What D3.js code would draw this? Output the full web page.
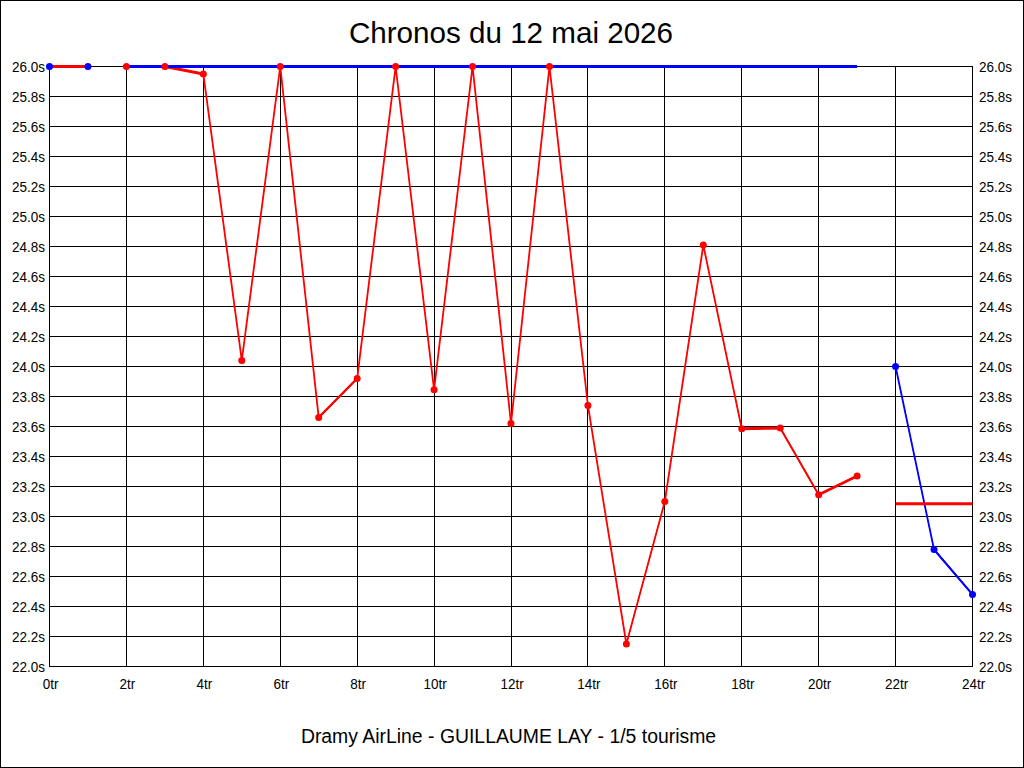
<!DOCTYPE html>
<html>
<head>
<meta charset="utf-8">
<script src="https://cdn.jsdelivr.net/npm/d3@7"></script>
<style>
  body { margin: 0; background: #fff; }
  svg { display: block; }
  .tick-label { font-family: "Liberation Sans", Arial, sans-serif; font-size: 15.5px; fill: #000; }
</style>
</head>
<body>
<svg id="svg" width="1024" height="768"></svg>
<script>
const svg = d3.select("#svg");

// laps (tours) and lap times in seconds, null = no lap for that series
const laps = [0, 1, 2, 3, 4, 5, 6, 7, 8, 9, 10, 11, 12, 13, 14, 15, 16, 17, 18, 19, 20, 21, 22, 23, 24];
const redTimes = [null, null, 26.0, 26.0, 25.95, 24.04, 26.0, 23.66, 23.92, 26.0, 23.845, 26.0, 23.62, 26.0,
  23.74, 22.15, 23.10, 24.81, 23.585, 23.59, 23.145, 23.27, null, null, null];
const blueTimes = [26.0, 26.0, null, null, null, null, null, null, null, null, null, null, null, null,
  null, null, null, null, null, null, null, null, 24.0, 22.78, 22.48];

// average lines
const avgSeries = ["red", "blue", "red"];
const avgFrom = [0, 2, 22];
const avgTo = [1, 21, 24];
const avgTimes = [26.0, 26.0, 23.085];

const xTicks = [0, 2, 4, 6, 8, 10, 12, 14, 16, 18, 20, 22, 24];
const yTicks = [22.0, 22.2, 22.4, 22.6, 22.8, 23.0, 23.2, 23.4, 23.6, 23.8, 24.0, 24.2, 24.4, 24.6, 24.8,
  25.0, 25.2, 25.4, 25.6, 25.8, 26.0];

const colors = { red: "#ff0000", blue: "#0000ff" };

const x = d3.scaleLinear().domain([0, 24]).range([49.5, 972.5]);
const y = d3.scaleLinear().domain([22, 26]).range([666.5, 66.5]);

// frame
svg.append("rect")
  .attr("x", 0.5).attr("y", 0.5)
  .attr("width", 1023).attr("height", 767)
  .attr("fill", "#fff").attr("stroke", "#000");

// title + footer
svg.append("text")
  .attr("x", 511).attr("y", 43)
  .attr("text-anchor", "middle")
  .style("font-family", "'Liberation Sans', Arial, sans-serif")
  .style("font-size", "29.6px")
  .text("Chronos du 12 mai 2026");

svg.append("text")
  .attr("x", 508.5).attr("y", 743)
  .attr("text-anchor", "middle")
  .style("font-family", "'Liberation Sans', Arial, sans-serif")
  .style("font-size", "19.4px")
  .text("Dramy AirLine - GUILLAUME LAY - 1/5 tourisme");

const g = svg.append("g");

// grid
g.selectAll("line.hgrid")
  .data(yTicks)
  .enter()
  .append("line")
  .attr("class", "hgrid")
  .attr("x1", x(0)).attr("x2", x(24))
  .attr("y1", (d) => Math.round(y(d) - 0.5) + 0.5)
  .attr("y2", (d) => Math.round(y(d) - 0.5) + 0.5)
  .attr("stroke", "#000")
  .attr("shape-rendering", "crispEdges");

g.selectAll("line.vgrid")
  .data(xTicks)
  .enter()
  .append("line")
  .attr("class", "vgrid")
  .attr("x1", (d) => Math.round(x(d) - 0.5) + 0.5)
  .attr("x2", (d) => Math.round(x(d) - 0.5) + 0.5)
  .attr("y1", y(26)).attr("y2", y(22))
  .attr("stroke", "#000")
  .attr("shape-rendering", "crispEdges");

// axis labels (narrow bitmap-like font: squeeze horizontally)
const squeeze = 0.87;

g.selectAll("text.ylab")
  .data(yTicks)
  .enter()
  .append("text")
  .attr("class", "tick-label")
  .attr("transform", (d) => `translate(45,${y(d) + 5.5}) scale(${squeeze},1)`)
  .attr("text-anchor", "end")
  .text((d) => d.toFixed(1) + "s");

g.selectAll("text.ylab2")
  .data(yTicks)
  .enter()
  .append("text")
  .attr("class", "tick-label")
  .attr("transform", (d) => `translate(979,${y(d) + 5.5}) scale(${squeeze},1)`)
  .text((d) => d.toFixed(1) + "s");

g.selectAll("text.xlab")
  .data(xTicks)
  .enter()
  .append("text")
  .attr("class", "tick-label")
  .attr("transform", (d) => `translate(${x(d) + 1},689) scale(${squeeze},1)`)
  .attr("text-anchor", "middle")
  .text((d) => d + "tr");

// series: the old renderer thickens lines vertically, so draw a vertical band + thin line
const series = [
  { color: colors.blue, values: blueTimes },
  { color: colors.red, values: redTimes },
];

const band = d3.area()
  .defined((d) => d.v != null)
  .x((d) => x(d.lap))
  .y0((d) => y(d.v) - 1.5)
  .y1((d) => y(d.v) + 1.5);

const thin = d3.line()
  .defined((d) => d.v != null)
  .x((d) => x(d.lap))
  .y((d) => y(d.v));

series.forEach((s) => {
  const pts = laps.map((lap, i) => ({ lap: lap, v: s.values[i] }));
  g.append("path")
    .attr("d", band(pts))
    .attr("fill", s.color);
  g.append("path")
    .attr("d", thin(pts))
    .attr("fill", "none")
    .attr("stroke", s.color)
    .attr("stroke-width", 1.8);
});

// average lines, over the series lines but under the markers
g.selectAll("line.avg")
  .data(avgTimes)
  .enter()
  .append("line")
  .attr("class", "avg")
  .attr("x1", (d, i) => x(avgFrom[i]))
  .attr("x2", (d, i) => x(avgTo[i]))
  .attr("y1", (d) => y(d))
  .attr("y2", (d) => y(d))
  .attr("stroke", (d, i) => colors[avgSeries[i]])
  .attr("stroke-width", 3);

series.forEach((s) => {
  const pts = laps.map((lap, i) => ({ lap: lap, v: s.values[i] })).filter((d) => d.v != null);
  g.selectAll(null)
    .data(pts)
    .enter()
    .append("circle")
    .attr("cx", (d) => x(d.lap))
    .attr("cy", (d) => y(d.v))
    .attr("r", 3.5)
    .attr("fill", s.color);
});
</script>
</body>
</html>
